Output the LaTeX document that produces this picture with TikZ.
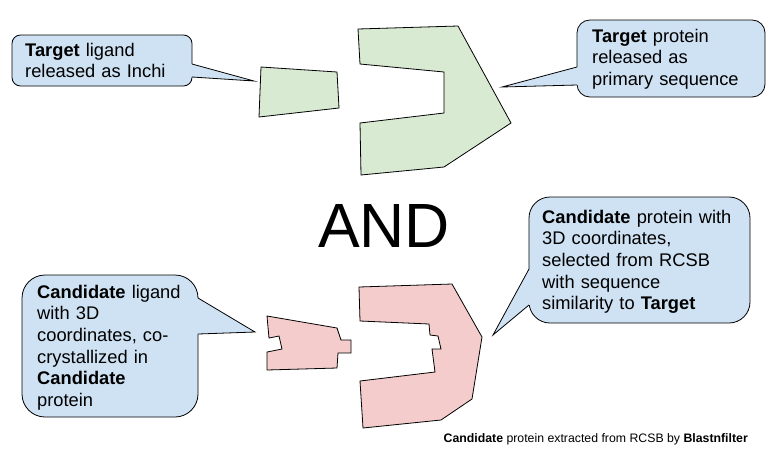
\documentclass[tikz,border=0pt]{standalone}
\usepackage{fontspec}
\setmainfont{Liberation Sans}
\definecolor{gfill}{HTML}{D9EAD3}
\definecolor{rfill}{HTML}{F4CCCC}
\definecolor{bfill}{HTML}{CFE2F3}
\tikzset{
  outline/.style={draw=black, line width=0.8pt, line join=miter},
  greenshape/.style={outline, fill=gfill},
  redshape/.style={outline, fill=rfill},
  balloon/.style={outline, fill=bfill},
  wedgefill/.style={fill=bfill},
  wedgeline/.style={draw=black, line width=0.8pt, line join=miter},
  calltext/.style={anchor=base west, inner sep=0pt, align=left, text width=215pt,
    font=\fontsize{18.3}{21.7}\selectfont},
  bigword/.style={anchor=base, inner sep=0pt, font=\fontsize{62.5}{70}\selectfont},
  footnote/.style={anchor=base east, inner sep=0pt, font=\fontsize{12.3}{14}\selectfont}
}
\begin{document}
\begin{tikzpicture}[x=1pt, y=-1pt]
\useasboundingbox[fill=white] (0,0) rectangle (771,456);

% ---------- green shapes (target) ----------
\draw[greenshape] (261,67) -- (337,72) -- (339,108) -- (259,117) -- cycle;
\draw[greenshape] (358,29) -- (458,26) -- (511,123) -- (444,167) -- (361,175)
  -- (360,123) -- (444,113) -- (444,72) -- (360,64) -- cycle;

% ---------- red shapes (candidate) ----------
\draw[redshape] (267,316) -- (337,328) -- (341,340) -- (351,340) -- (351,353)
  -- (338,353) -- (337,368) -- (267,370) -- (267,352) -- (282,349)
  -- (279,336) -- (269,338) -- cycle;
\draw[redshape] (359,287) -- (452,284) -- (482,337) -- (472,399) -- (441,420)
  -- (363,428) -- (360,381) -- (435,372) -- (432,349) -- (441,349)
  -- (438,336) -- (430,335) -- (429,324) -- (360,321) -- cycle;

% ---------- callout tips ----------
\coordinate (tltip) at (254,81);
\coordinate (trtip) at (502,87);
\coordinate (bltip) at (255,332);
\coordinate (brtip) at (493,335);

% ---------- top-left callout ----------
\draw[balloon, rounded corners=8.5pt] (12,35) rectangle (192,86);
\fill[wedgefill] (190,64) -- (192,64) -- (tltip) -- (192,77) -- (190,77) -- cycle;
\draw[wedgeline] (192,64) -- (tltip) -- (192,77);
\node[calltext] (tltext) at (25,56) {\textbf{Target} ligand\\released as Inchi};

% ---------- top-right callout ----------
\draw[balloon, rounded corners=12.8pt] (577,20) rectangle (765,97);
\fill[wedgefill] (579,67) -- (577,67) -- (trtip) -- (577,85) -- (579,85) -- cycle;
\draw[wedgeline] (577,67) -- (trtip) -- (577,85);
\node[calltext] (trtext) at (592,42) {\textbf{Target} protein\\released as\\primary sequence};

% ---------- bottom-left callout ----------
\draw[balloon, rounded corners=23pt] (22,275) rectangle (198,417);
\fill[wedgefill] (196,298) -- (198,298) -- (bltip) -- (198,334) -- (196,334) -- cycle;
\draw[wedgeline] (198,298) -- (bltip) -- (198,334);
\node[calltext] (bltext) at (37,298) {\textbf{Candidate} ligand\\with 3D\\coordinates, co-\\crystallized in\\\textbf{Candidate}\\protein};

% ---------- bottom-right callout ----------
\draw[balloon, rounded corners=21pt] (529,197) rectangle (750,323);
\fill[wedgefill] (531,269) -- (529,269) -- (brtip) -- (529,305) -- (531,305) -- cycle;
\draw[wedgeline] (529,269) -- (brtip) -- (529,305);
\node[calltext] (brtext) at (542,223) {\textbf{Candidate} protein with\\3D coordinates,\\selected from RCSB\\with sequence\\similarity to \textbf{Target}};

% ---------- AND ----------
\node[bigword] (andword) at (384,247) {AND};

% ---------- footer ----------
\node[footnote] (foot) at (748,442) {\textbf{Candidate} protein extracted from RCSB by \textbf{Blastnfilter}};
\end{tikzpicture}
\end{document}
